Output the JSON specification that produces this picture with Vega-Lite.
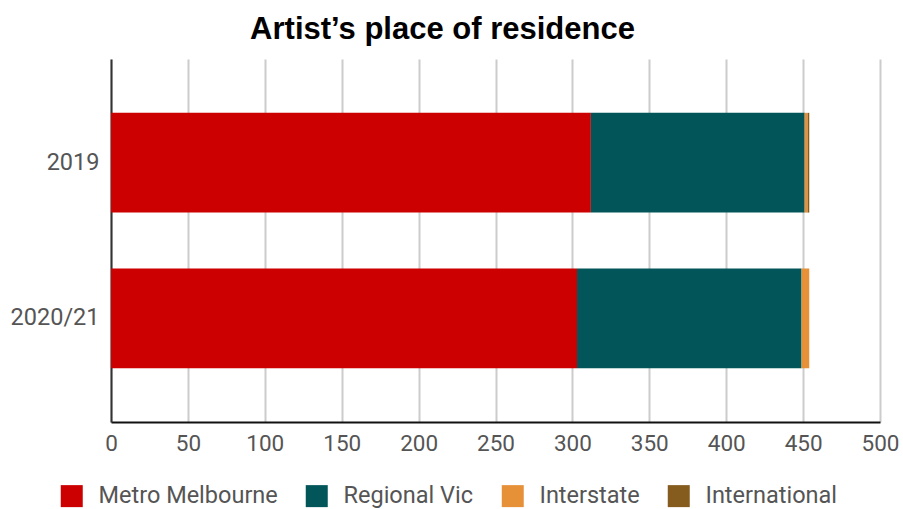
{
  "$schema": "https://vega.github.io/schema/vega-lite/v6.json",
  "width": 769,
  "height": 363,
  "autosize": {"type": "none"},
  "padding": {"left": 111, "top": 59, "right": 23, "bottom": 87},
  "background": "white",
  "title": {
    "text": "Artist’s place of residence",
    "font": "Liberation Sans",
    "fontSize": 31,
    "fontWeight": "bold",
    "color": "#000000",
    "anchor": "middle",
    "dx": -53,
    "offset": 13
  },
  "data": {
    "values": [
      {"year": "2019", "place": "Metro Melbourne", "count": 312, "ord": 1},
      {"year": "2019", "place": "Regional Vic", "count": 139, "ord": 2},
      {"year": "2019", "place": "Interstate", "count": 2, "ord": 3},
      {"year": "2019", "place": "International", "count": 1, "ord": 4},
      {"year": "2020/21", "place": "Metro Melbourne", "count": 303, "ord": 1},
      {"year": "2020/21", "place": "Regional Vic", "count": 146, "ord": 2},
      {"year": "2020/21", "place": "Interstate", "count": 5, "ord": 3},
      {"year": "2020/21", "place": "International", "count": 0, "ord": 4}
    ]
  },
  "mark": {"type": "bar"},
  "encoding": {
    "y": {
      "field": "year",
      "type": "nominal",
      "sort": ["2019", "2020/21"],
      "scale": {"paddingInner": 0.359, "paddingOuter": 0.346},
      "axis": {
        "title": null,
        "labelFont": "Roboto",
        "labelFontSize": 23.5,
        "labelColor": "#555555",
        "labelPadding": 12,
        "ticks": false,
        "domainColor": "#333333",
        "domainWidth": 2,
        "grid": false
      }
    },
    "x": {
      "field": "count",
      "type": "quantitative",
      "stack": "zero",
      "scale": {"domain": [0, 500], "nice": false},
      "axis": {
        "title": null,
        "values": [0, 50, 100, 150, 200, 250, 300, 350, 400, 450, 500],
        "labelFont": "Roboto",
        "labelFontSize": 22.5,
        "labelColor": "#555555",
        "labelPadding": 10,
        "labelFlush": false,
        "ticks": false,
        "domainColor": "#111111",
        "domainWidth": 2,
        "grid": true,
        "gridColor": "#cccccc",
        "gridWidth": 2
      }
    },
    "color": {
      "field": "place",
      "type": "nominal",
      "sort": ["Metro Melbourne", "Regional Vic", "Interstate", "International"],
      "scale": {
        "domain": ["Metro Melbourne", "Regional Vic", "Interstate", "International"],
        "range": ["#cc0000", "#02565a", "#e69138", "#855b1e"]
      },
      "legend": {
        "title": null,
        "orient": "none",
        "legendX": -51,
        "legendY": 425,
        "direction": "horizontal",
        "labelFont": "Roboto",
        "labelFontSize": 23.5,
        "labelColor": "#555555",
        "labelLimit": 400,
        "symbolType": "square",
        "symbolSize": 484,
        "symbolStrokeWidth": 0,
        "labelOffset": 15,
        "columnPadding": 27
      }
    },
    "order": {"field": "ord", "type": "quantitative"}
  },
  "config": {"view": {"stroke": null}}
}
